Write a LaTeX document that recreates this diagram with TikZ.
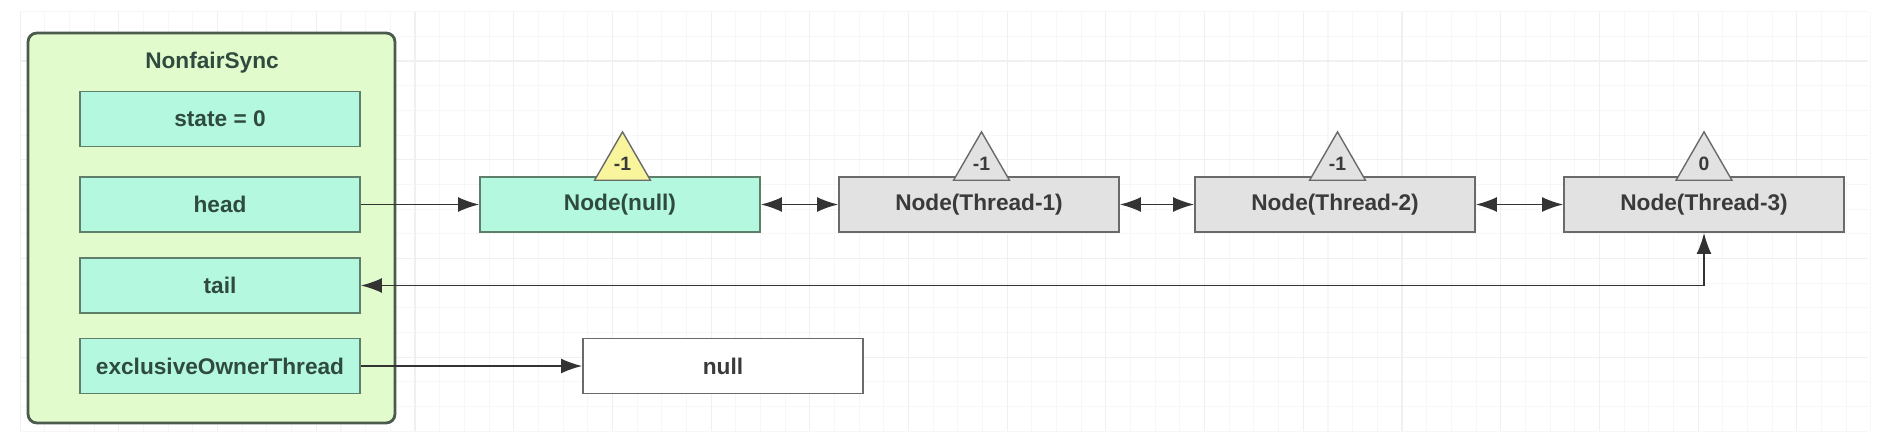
\documentclass[tikz,border=0pt]{standalone}
\usepackage{fontspec}
\setmainfont{Liberation Sans}
\usetikzlibrary{arrows.meta,shapes.geometric,positioning}
\definecolor{panelfill}{HTML}{E2FBCD}
\definecolor{paneldraw}{HTML}{4A5A4C}
\definecolor{mint}{HTML}{B4F8E0}
\definecolor{fielddraw}{HTML}{5F7F6A}
\definecolor{fieldtext}{HTML}{2F4B40}
\definecolor{greyfill}{HTML}{E2E2E2}
\definecolor{greydraw}{HTML}{6A6A6A}
\definecolor{greytext}{HTML}{3A3A3A}
\definecolor{lockyellow}{HTML}{F9F59C}
\definecolor{arrowc}{HTML}{333333}
\begin{document}
\begin{tikzpicture}[x=0.02cm,y=-0.02cm,
font=\fontsize{12.9}{15}\selectfont\bfseries,
panel/.style={draw=paneldraw, fill=panelfill, line width=1.6pt, rounded corners=5pt,
  minimum width=7.34cm, minimum height=7.8cm},
field/.style={draw=fielddraw, fill=mint, line width=1pt, minimum width=5.6cm,
  minimum height=1.1cm, text=fieldtext},
qnode/.style={draw=greydraw, fill=greyfill, line width=1pt, minimum width=5.6cm,
  minimum height=1.1cm, text=greytext},
tri/.style={regular polygon, regular polygon sides=3, draw=greydraw, fill=greyfill,
  line width=0.8pt, minimum size=1.29cm, inner sep=0pt,
  font=\fontsize{11}{13}\selectfont\bfseries, text=greytext},
conn/.style={draw=arrowc, line width=0.9pt, -{Latex[length=12pt,width=8.5pt]}},
both/.style={{Latex[length=12pt,width=8.5pt]}-{Latex[length=12pt,width=8.5pt]}},
gridminor/.style={draw=black!3, line width=0.6pt},
gridmajor/.style={draw=black!6, line width=0.6pt}
]
\useasboundingbox (0,0) rectangle (1878,443);
% background grid
\foreach \i in {0,...,75}
  \draw[gridminor] ({20.2+\i*24.675},12) -- ({20.2+\i*24.675},431);
\foreach \j in {0,...,17}
  \draw[gridminor] (20,{11.65+\j*24.675}) -- (1868,{11.65+\j*24.675});
\foreach \i in {0,...,18}
  \draw[gridmajor] ({20.2+\i*98.7},12) -- ({20.2+\i*98.7},431);
\foreach \j in {0,...,3}
  \draw[gridmajor] (20,{61+\j*98.7}) -- (1868,{61+\j*98.7});

% NonfairSync
\node[panel] (sync) at (211.5,228) {};
\node[text=fieldtext] (title) at (212,63) {NonfairSync};
\node[field] (state) at (220,119) {state = 0};
\node[field] (head) at (220,204.5) {head};
\node[field] (tail) at (220,285.5) {tail};
\node[field] (owner) at (220,366) {exclusiveOwnerThread};

% queue
\node[field] (nnull) at (620,204.5) {Node(null)};
\node[qnode] (nt1) at (979,204.5) {Node(Thread-1)};
\node[qnode] (nt2) at (1335,204.5) {Node(Thread-2)};
\node[qnode] (nt3) at (1704,204.5) {Node(Thread-3)};
\node[draw=greydraw, fill=white, line width=1pt, minimum width=5.6cm,
  minimum height=1.1cm, text=greytext] (nullbox) at (723,366) {null};

% waitStatus
\node[tri, fill=lockyellow] (wnull) at ([xshift=0.05cm,yshift=0.24cm]nnull.north) {-1};
\node[tri] (wt1) at ([xshift=0.05cm,yshift=0.24cm]nt1.north) {-1};
\node[tri] (wt2) at ([xshift=0.05cm,yshift=0.24cm]nt2.north) {-1};
\node[tri] (wt3) at ([yshift=0.24cm]nt3.north) {0};

% links
\draw[conn] (head) -- (nnull);
\draw[conn, both] (nnull) -- (nt1);
\draw[conn, both] (nt1) -- (nt2);
\draw[conn, both] (nt2) -- (nt3);
\draw[conn, both] (tail.east) -| (nt3.south);
\draw[conn] (owner) -- (nullbox);
\end{tikzpicture}
\end{document}
